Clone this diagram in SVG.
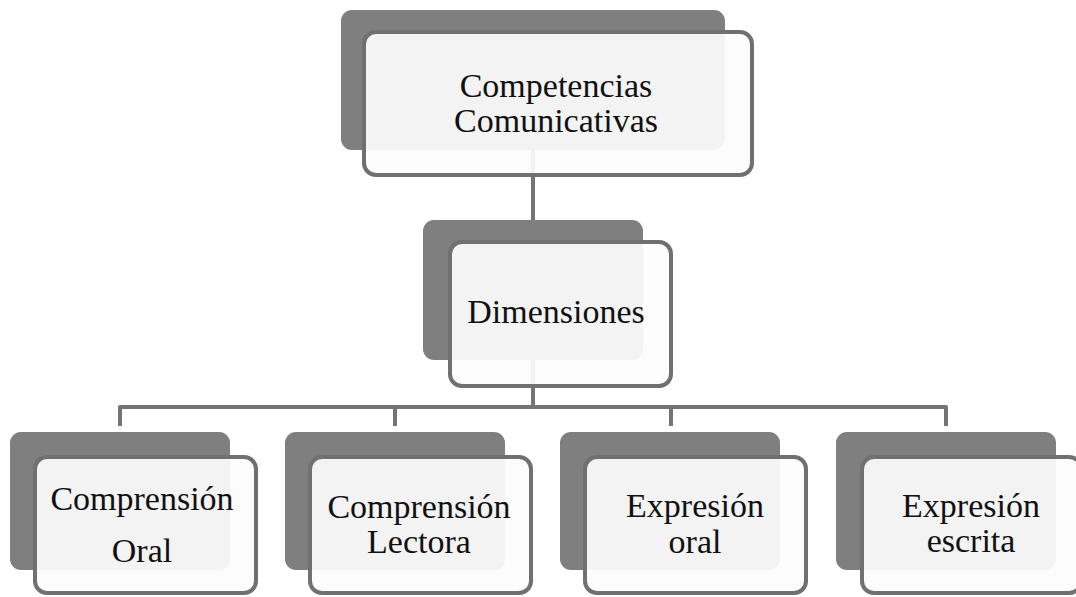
<svg xmlns="http://www.w3.org/2000/svg" width="1076" height="597" viewBox="0 0 1076 597">
  <style>
    .back { fill: #7f7f7f; }
    .front { fill: #fcfcfc; fill-opacity: 0.93; stroke: #707070; stroke-width: 4; }
    .link { fill: none; stroke: #747474; stroke-width: 4; stroke-linejoin: round; }
    .label { font-family: 'Liberation Serif', 'DejaVu Serif', serif; font-size: 34px; fill: #111111; text-anchor: middle; }
  </style>
  <rect width="1076" height="597" fill="#ffffff"/>

  <!-- connectors (drawn under the cards) -->
  <g id="connectors">
    <path class="link" d="M533 150 V222"/>
    <path class="link" d="M533 360 V407"/>
    <path class="link" d="M120 426 V407 H946 V426"/>
    <path class="link" d="M395 407 V426"/>
    <path class="link" d="M671 407 V426"/>
  </g>

  <g id="competencias">
    <rect class="back" x="341" y="10" width="384" height="140" rx="11"/>
    <rect class="front" x="364" y="32" width="388" height="143" rx="12"/>
    <text class="label" font-family="Liberation Serif, serif" x="556" y="97">Competencias</text>
    <text class="label" font-family="Liberation Serif, serif" x="556" y="132">Comunicativas</text>
  </g>

  <g id="dimensiones">
    <rect class="back" x="423" y="220" width="220" height="140" rx="11"/>
    <rect class="front" x="450" y="242" width="221" height="144" rx="12"/>
    <text class="label" x="556" y="323">Dimensiones</text>
  </g>

  <g id="comprension-oral">
    <rect class="back" x="10" y="432" width="220" height="138" rx="11"/>
    <rect class="front" x="35" y="457" width="221" height="136" rx="12"/>
    <text class="label" x="142" y="510">Comprensión</text>
    <text class="label" x="142" y="562">Oral</text>
  </g>

  <g id="comprension-lectora">
    <rect class="back" x="285" y="432" width="220" height="138" rx="11"/>
    <rect class="front" x="310" y="457" width="221" height="136" rx="12"/>
    <text class="label" x="419" y="518">Comprensión</text>
    <text class="label" x="419" y="553">Lectora</text>
  </g>

  <g id="expresion-oral">
    <rect class="back" x="560" y="432" width="220" height="138" rx="11"/>
    <rect class="front" x="585" y="457" width="221" height="136" rx="12"/>
    <text class="label" x="695" y="517">Expresión</text>
    <text class="label" x="695" y="553">oral</text>
  </g>

  <g id="expresion-escrita">
    <rect class="back" x="836" y="432" width="220" height="138" rx="11"/>
    <rect class="front" x="862" y="457" width="219" height="136" rx="12"/>
    <text class="label" x="971" y="517">Expresión</text>
    <text class="label" x="971" y="552">escrita</text>
  </g>
</svg>
